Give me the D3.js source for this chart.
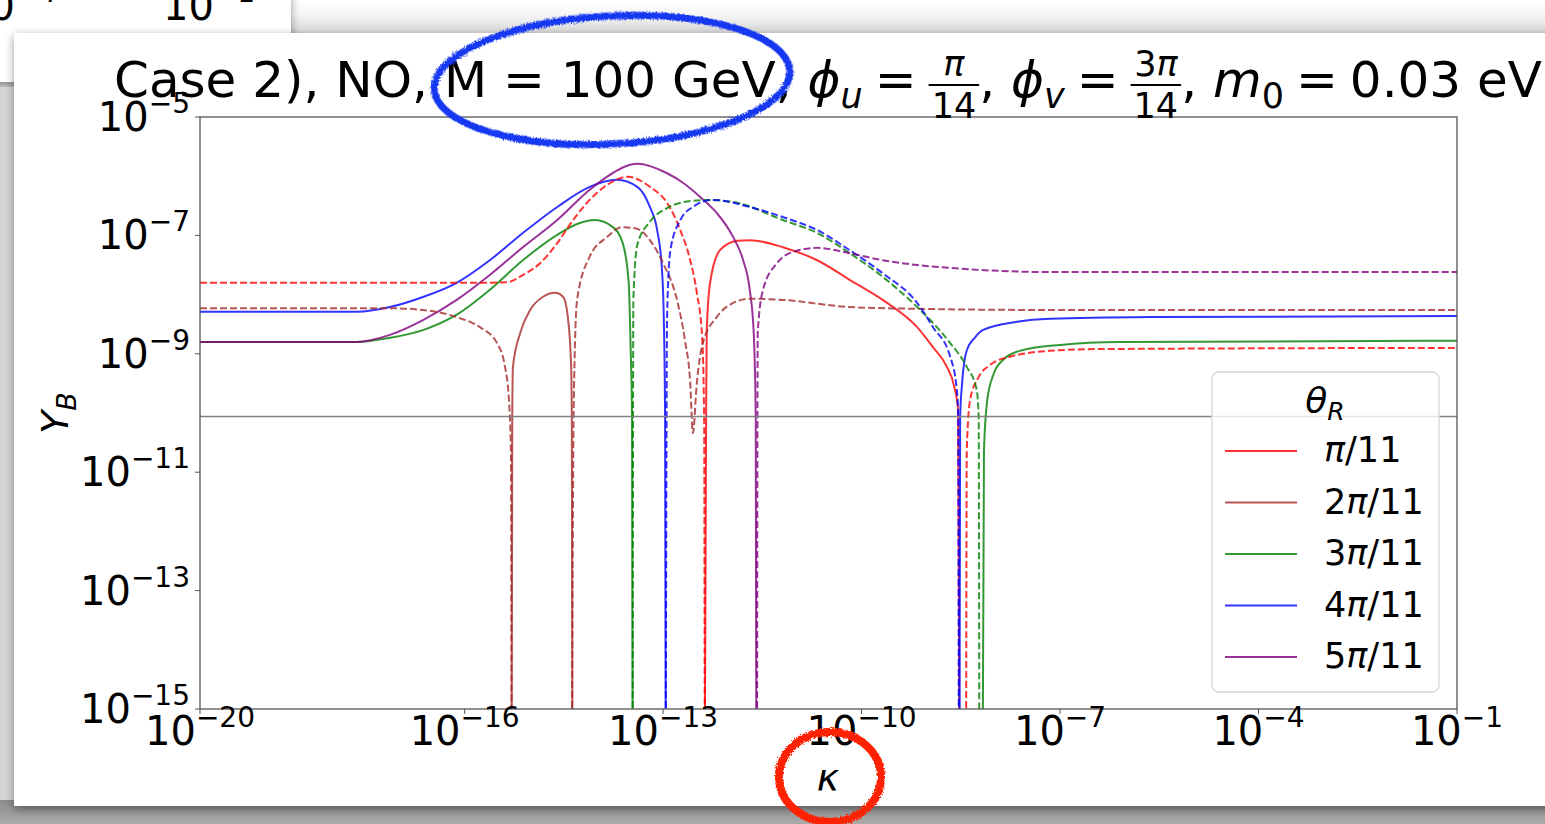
<!DOCTYPE html>
<html>
<head>
<meta charset="UTF-8">
<style>
  body { margin: 0; background: #d4d4d4; overflow: hidden; }
  svg { display: block; font-family: "DejaVu Sans", sans-serif; }
  text { white-space: pre; }
</style>
<script src="https://cdn.jsdelivr.net/npm/d3@7"></script>
</head>
<body>
<svg id="chart" width="1545" height="824"></svg>
<script>
// values, as [log10(kappa), log10(Y_B)]
// -16 means the curve has left the plot downwards (sign change), null = gap
var red_solid = [[-12.37,-16],[-12.35,-10.07],[-12.34,-8.60],[-12.29,-7.80],[-12.14,-7.25],[-11.88,-7.09],
  [-11.69,-7.08],[-11.19,-7.20],[-10.67,-7.42],[-10.18,-7.75],[-9.68,-8.09],[-9.16,-8.55],[-8.92,-8.89],
  [-8.72,-9.20],[-8.60,-9.55],[-8.54,-9.95],[-8.52,-16]];
var red_dashed = [[-20,-7.80],[-15.77,-7.80],[-15.36,-7.79],[-15.12,-7.67],[-14.86,-7.47],[-14.60,-7.13],
  [-14.36,-6.74],[-14.11,-6.40],[-13.85,-6.15],[-13.53,-6.01],[-13.20,-6.18],[-12.94,-6.45],[-12.74,-6.91],
  [-12.59,-7.42],[-12.49,-7.97],[-12.41,-8.72],[-12.38,-10.07],[-12.37,-16], null,
  [-8.42,-16],[-8.41,-10.63],[-8.36,-9.78],[-8.24,-9.41],[-8.06,-9.19],[-7.76,-9.05],[-7.15,-8.95],
  [-6.40,-8.92],[-1,-8.90]];
var brown_solid = [[-15.29,-16],[-15.28,-10.07],[-15.27,-9.22],[-15.16,-8.65],[-15.01,-8.26],[-14.82,-8.04],
  [-14.63,-7.97],[-14.51,-8.04],[-14.44,-8.38],[-14.39,-9.22],[-14.38,-10.07],[-14.37,-16]];
var brown_dashed = [[-20,-8.23],[-17.13,-8.23],[-16.63,-8.26],[-16.12,-8.38],[-15.77,-8.55],[-15.51,-8.82],
  [-15.39,-9.22],[-15.33,-9.78],[-15.30,-10.63],[-15.29,-16], null,
  [-14.38,-16],[-14.35,-9.78],[-14.30,-8.09],[-14.11,-7.36],[-13.85,-7.03],[-13.62,-6.86],[-13.39,-6.89],
  [-13.20,-7.08],[-13.00,-7.47],[-12.79,-8.09],[-12.67,-8.77],[-12.59,-9.49],[-12.55,-10.34],[-12.49,-9.49],
  [-12.40,-8.82],[-12.19,-8.38],[-11.94,-8.14],[-11.69,-8.07],[-11.19,-8.09],[-10.18,-8.21],[-9.16,-8.24],
  [-7.15,-8.26],[-1,-8.26]];
var green_solid = [[-20,-8.80],[-17.63,-8.80],[-17.13,-8.73],[-16.63,-8.60],[-16.12,-8.34],[-15.62,-7.92],
  [-15.12,-7.42],[-14.60,-6.99],[-14.26,-6.79],[-14.03,-6.74],[-13.76,-6.86],[-13.61,-7.13],[-13.52,-7.80],
  [-13.49,-8.94],[-13.47,-10.07],[-13.46,-16], null,
  [-8.17,-16],[-8.15,-10.63],[-8.10,-9.78],[-8.01,-9.36],[-7.86,-9.10],[-7.61,-8.95],[-7.00,-8.85],
  [-6.09,-8.80],[-1,-8.78]];
var green_dashed = [[-13.46,-16],[-13.45,-8.09],[-13.39,-7.16],[-13.20,-6.77],[-12.94,-6.54],[-12.59,-6.42],
  [-12.29,-6.40],[-11.88,-6.45],[-11.19,-6.74],[-10.67,-6.96],[-10.18,-7.30],[-9.68,-7.70],[-9.16,-8.21],
  [-8.92,-8.48],[-8.66,-8.82],[-8.41,-9.22],[-8.26,-9.61],[-8.23,-10.07],[-8.22,-16]];
var blue_solid = [[-20,-8.29],[-17.63,-8.29],[-17.13,-8.21],[-16.63,-8.04],[-16.12,-7.80],[-15.62,-7.42],
  [-15.12,-6.96],[-14.60,-6.52],[-14.11,-6.18],[-13.70,-6.06],[-13.39,-6.18],[-13.20,-6.52],[-13.09,-6.91],
  [-13.02,-7.53],[-12.99,-8.38],[-12.97,-10.07],[-12.96,-16], null,
  [-8.52,-16],[-8.51,-10.07],[-8.48,-9.49],[-8.41,-8.94],[-8.29,-8.73],[-8.17,-8.60],[-7.65,-8.46],
  [-7.15,-8.41],[-5.64,-8.38],[-1,-8.36]];
var blue_dashed = [[-12.96,-16],[-12.94,-8.38],[-12.89,-7.25],[-12.74,-6.74],[-12.55,-6.52],[-12.25,-6.40],
  [-11.69,-6.52],[-11.19,-6.69],[-10.67,-6.91],[-10.18,-7.25],[-9.68,-7.64],[-9.16,-8.14],[-8.92,-8.55],
  [-8.66,-9.05],[-8.56,-9.61],[-8.54,-10.07],[-8.53,-16]];
var purple_solid = [[-20,-8.80],[-17.63,-8.80],[-17.13,-8.68],[-16.63,-8.43],[-16.12,-8.09],[-15.62,-7.67],
  [-15.12,-7.20],[-14.60,-6.74],[-14.11,-6.23],[-13.85,-6.01],[-13.39,-5.79],[-12.94,-5.95],[-12.70,-6.11],
  [-12.44,-6.35],[-12.19,-6.62],[-11.94,-7.03],[-11.79,-7.42],[-11.69,-7.92],[-11.63,-8.65],[-11.60,-10.07],
  [-11.59,-16]];
var purple_dashed = [[-11.58,-16],[-11.57,-8.65],[-11.49,-7.92],[-11.28,-7.47],[-11.04,-7.28],[-10.67,-7.21],
  [-10.18,-7.30],[-9.68,-7.42],[-9.16,-7.50],[-8.66,-7.55],[-7.91,-7.60],[-7.15,-7.62],[-1,-7.62]];

var theta_labels = ["π/11", "2π/11", "3π/11", "4π/11", "5π/11"];
var theta_colors = ["#ff0000", "#a52a2a", "#008000", "#0000ff", "#800080"];
var solid_series = [red_solid, brown_solid, green_solid, blue_solid, purple_solid];
var dashed_series = [red_dashed, brown_dashed, green_dashed, blue_dashed, purple_dashed];

var x_tick_exp = [-20, -16, -13, -10, -7, -4, -1];
var y_tick_exp = [-5, -7, -9, -11, -13, -15];
var yb_observed = 8.7e-11;

var svg = d3.select("#chart");
var defs = svg.append("defs");

// ---- screenshot backdrop (shadows, previous figure) ----
var gTop = defs.append("linearGradient").attr("id", "gTop").attr("x1", 0).attr("y1", 0).attr("x2", 0).attr("y2", 1);
gTop.append("stop").attr("offset", "0%").attr("stop-color", "#ffffff");
gTop.append("stop").attr("offset", "40%").attr("stop-color", "#f6f6f6");
gTop.append("stop").attr("offset", "100%").attr("stop-color", "#d2d2d2");
var gBot = defs.append("linearGradient").attr("id", "gBot").attr("x1", 0).attr("y1", 0).attr("x2", 0).attr("y2", 1);
gBot.append("stop").attr("offset", "0%").attr("stop-color", "#8c8c8c");
gBot.append("stop").attr("offset", "100%").attr("stop-color", "#ababab");
var gLeft = defs.append("linearGradient").attr("id", "gLeft").attr("x1", 0).attr("y1", 0).attr("x2", 1).attr("y2", 0);
gLeft.append("stop").attr("offset", "0%").attr("stop-color", "#d6d6d6");
gLeft.append("stop").attr("offset", "100%").attr("stop-color", "#c6c6c6");

var shadow = defs.append("filter").attr("id", "shadow").attr("x", "-5%").attr("y", "-5%").attr("width", "110%").attr("height", "110%");
shadow.append("feDropShadow").attr("dx", 0).attr("dy", 3).attr("stdDeviation", 5)
  .attr("flood-color", "#000").attr("flood-opacity", 0.4);

var rough = defs.append("filter").attr("id", "rough");
rough.append("feTurbulence").attr("type", "fractalNoise").attr("baseFrequency", 0.7).attr("numOctaves", 2).attr("result", "n");
rough.append("feDisplacementMap").attr("in", "SourceGraphic").attr("in2", "n").attr("scale", 5);

svg.append("rect").attr("width", 1545).attr("height", 824).attr("fill", "url(#gLeft)");
svg.append("rect").attr("width", 1545).attr("height", 36).attr("fill", "url(#gTop)");
svg.append("rect").attr("y", 800).attr("width", 1545).attr("height", 24).attr("fill", "url(#gBot)");

// previous figure peeking out at the top left
svg.append("rect").attr("x", -10).attr("y", -10).attr("width", 301).attr("height", 92)
  .attr("fill", "#fff").attr("filter", "url(#shadow)");
var prev = svg.append("g").attr("font-size", 40).attr("fill", "#000");
[[-36, "−4"], [163, "−1"]].forEach(function(p) {
  var t = prev.append("text").attr("x", p[0]).attr("y", 20).text("10");
  t.append("tspan").attr("font-size", 28).attr("dy", -18).text(p[1]);
});

// the card holding the figure
svg.append("rect").attr("x", 14).attr("y", 33).attr("width", 1560).attr("height", 773)
  .attr("fill", "#fff").attr("filter", "url(#shadow)");

// ---- axes ----
var x = d3.scaleLog().domain([1e-20, 1e-1]).range([200, 1457]);
var y = d3.scaleLog().domain([1e-15, 1e-5]).range([709, 117]);

defs.append("clipPath").attr("id", "plotclip").append("rect")
  .attr("x", 200).attr("y", 117).attr("width", 1257).attr("height", 592);

var plot = svg.append("g").attr("clip-path", "url(#plotclip)");

var line = d3.line()
  .defined(function(d) { return d !== null; })
  .x(function(d) { return x(Math.pow(10, d[0])); })
  .y(function(d) { return y(Math.pow(10, d[1])); })
  .curve(d3.curveMonotoneX);

solid_series.forEach(function(s, i) {
  plot.append("path").attr("d", line(s)).attr("fill", "none")
    .attr("stroke", theta_colors[i]).attr("stroke-opacity", 0.8).attr("stroke-width", 2);
});
dashed_series.forEach(function(s, i) {
  plot.append("path").attr("d", line(s)).attr("fill", "none")
    .attr("stroke", theta_colors[i]).attr("stroke-opacity", 0.8).attr("stroke-width", 2)
    .attr("stroke-dasharray", "7,3");
});

// observed value
svg.append("line").attr("x1", 200).attr("x2", 1457)
  .attr("y1", y(yb_observed)).attr("y2", y(yb_observed))
  .attr("stroke", "#808080").attr("stroke-width", 1.5);

// frame
svg.append("rect").attr("x", 200).attr("y", 117).attr("width", 1257).attr("height", 592)
  .attr("fill", "none").attr("stroke", "#555").attr("stroke-width", 1.3);

// ticks + labels
var ax = svg.append("g").attr("font-size", 40).attr("fill", "#000");
x_tick_exp.forEach(function(e) {
  var px = x(Math.pow(10, e));
  ax.append("line").attr("x1", px).attr("x2", px).attr("y1", 709).attr("y2", 714).attr("stroke", "#555");
  var t = ax.append("text").attr("x", px).attr("y", 745).attr("text-anchor", "middle").text("10");
  t.append("tspan").attr("font-size", 28).attr("dy", -18).text("−" + Math.abs(e));
});
y_tick_exp.forEach(function(e) {
  var py = y(Math.pow(10, e));
  ax.append("line").attr("x1", 195).attr("x2", 200).attr("y1", py).attr("y2", py).attr("stroke", "#555");
  var t = ax.append("text").attr("x", 190).attr("y", py + 14).attr("text-anchor", "end").text("10");
  t.append("tspan").attr("font-size", 28).attr("dy", -18).text("−" + Math.abs(e));
});

// axis labels
ax.append("text").attr("x", 828).attr("y", 790).attr("text-anchor", "middle")
  .attr("font-style", "italic").attr("font-size", 38).text("κ");
var yl = ax.append("text").attr("transform", "translate(68,413) rotate(-90)")
  .attr("text-anchor", "middle").attr("font-style", "italic").attr("font-size", 38).text("Y");
yl.append("tspan").attr("font-size", 27).attr("dy", 8).text("B");

// ---- title with inline math ----
function addRuns(t, str) {
  str.split(/(π)/).forEach(function(s) {
    if (!s) return;
    t.append("tspan").attr("font-style", s === "π" ? "italic" : null).text(s);
  });
}

function mathRow(g, pieces, size) {
  var cx = 0;
  pieces.forEach(function(p) {
    if (p.frac) {
      var fs = size * 0.7;
      var num = g.append("text").attr("font-size", fs).attr("y", -size * 0.42);
      addRuns(num, p.frac[0]);
      var den = g.append("text").attr("font-size", fs).attr("y", size * 0.41);
      addRuns(den, p.frac[1]);
      var wn = num.node().getComputedTextLength(), wd = den.node().getComputedTextLength();
      var w = Math.max(wn, wd) + size * 0.12;
      num.attr("x", cx + (w - wn) / 2);
      den.attr("x", cx + (w - wd) / 2);
      g.append("rect").attr("x", cx).attr("y", -size * 0.26).attr("width", w).attr("height", 2);
      cx += w;
    } else {
      var pad = p.rel ? size * 0.24 : 0;
      cx += pad;
      var t = g.append("text").attr("x", cx).attr("y", p.sub ? size * 0.21 : 0)
        .attr("font-size", p.sub ? size * 0.7 : size)
        .attr("font-style", p.it ? "italic" : null)
        .text(p.s);
      cx += t.node().getComputedTextLength() + pad;
    }
  });
  return cx;
}

var title = svg.append("g").attr("fill", "#000");
var tw = mathRow(title, [
  {s: "Case 2), NO, M = 100 GeV, "},
  {s: "ϕ", it: true}, {s: "u", it: true, sub: true}, {s: "=", rel: true}, {frac: ["π", "14"]}, {s: ", "},
  {s: "ϕ", it: true}, {s: "v", it: true, sub: true}, {s: "=", rel: true}, {frac: ["3π", "14"]}, {s: ", "},
  {s: "m", it: true}, {s: "0", sub: true}, {s: "=", rel: true}, {s: "0.03 eV"}
], 50);
title.attr("transform", "translate(" + (828 - tw / 2) + ",97)");

// ---- legend ----
var lg = svg.append("g");
lg.append("rect").attr("x", 1212).attr("y", 372).attr("width", 227).attr("height", 320)
  .attr("rx", 7).attr("fill", "#fff").attr("fill-opacity", 0.8)
  .attr("stroke", "#d6d6d6").attr("stroke-width", 1.3);
var lt = lg.append("text").attr("x", 1325).attr("y", 413).attr("text-anchor", "middle")
  .attr("font-size", 36).attr("font-style", "italic").text("θ");
lt.append("tspan").attr("font-size", 25).attr("dy", 7).text("R");
theta_labels.forEach(function(lab, i) {
  var by = 462 + i * 51.5;
  lg.append("line").attr("x1", 1225).attr("x2", 1297).attr("y1", by - 11).attr("y2", by - 11)
    .attr("stroke", theta_colors[i]).attr("stroke-opacity", 0.8).attr("stroke-width", 2);
  var t = lg.append("text").attr("x", 1324).attr("y", by).attr("font-size", 35);
  addRuns(t, lab);
});

// ---- hand-drawn marks on the screenshot ----
svg.append("ellipse").attr("cx", 612).attr("cy", 80).attr("rx", 178).attr("ry", 64)
  .attr("transform", "rotate(-3,612,80)")
  .attr("fill", "none").attr("stroke", "#1438f0").attr("stroke-width", 7).attr("filter", "url(#rough)");
svg.append("ellipse").attr("cx", 830).attr("cy", 777).attr("rx", 51).attr("ry", 45)
  .attr("fill", "none").attr("stroke", "#ff2400").attr("stroke-width", 8).attr("filter", "url(#rough)");
</script>
</body>
</html>
